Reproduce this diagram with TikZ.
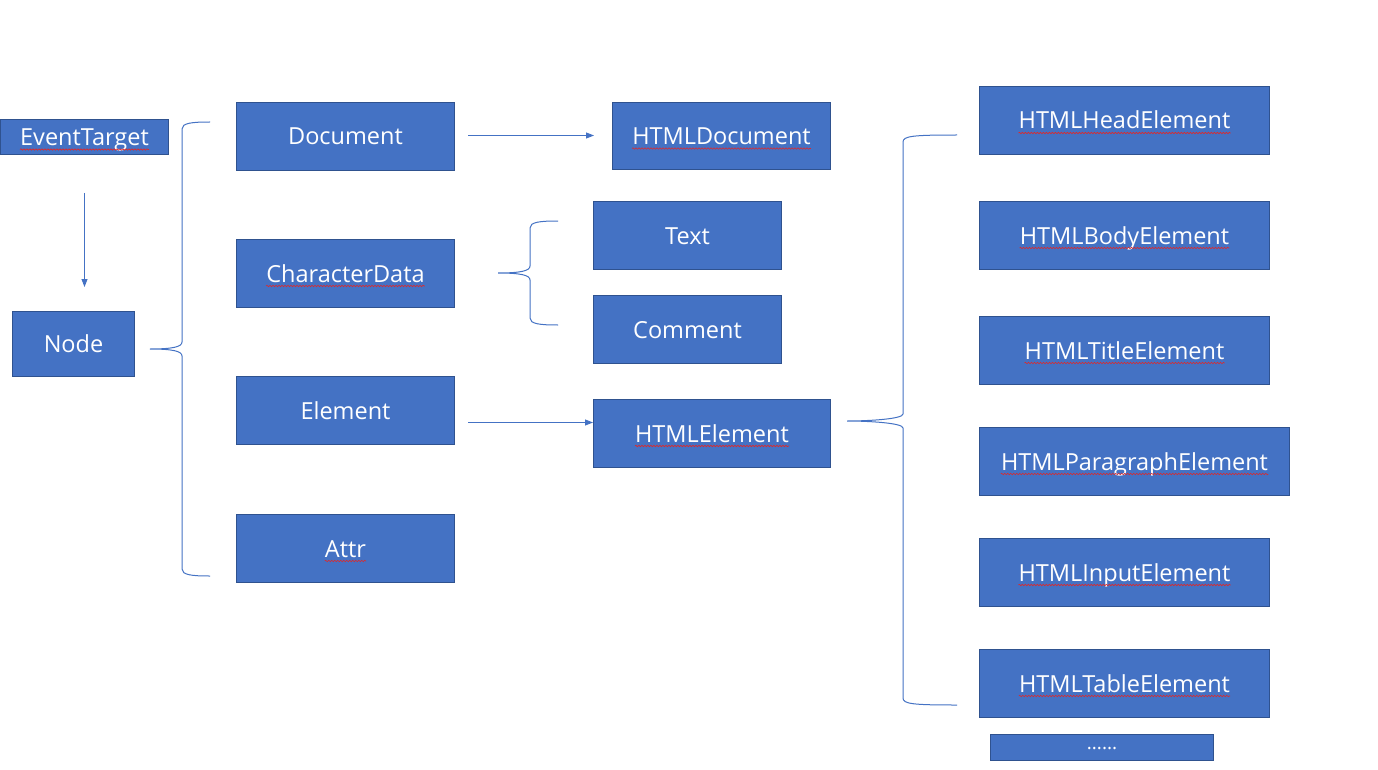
\documentclass[tikz,border=0pt]{standalone}
\usepackage{fontspec}
\setmainfont{Open Sans}
\usetikzlibrary{decorations.pathmorphing,arrows.meta}
\definecolor{boxblue}{HTML}{4472C4}
\definecolor{boxedge}{HTML}{2F528F}
\definecolor{sqred}{HTML}{E02828}
\newcommand\mkbox[6]{%
  \node[box, minimum width=#4pt, minimum height=#5pt] (#1) at (#2,#3) {};
  \node[txt] (#1-t) at ([yshift=-8.5pt]#1.center) {#6};}
\newcommand\squig[1]{%
  \draw[squigline] ([yshift=-4pt]#1-t.base west) -- ([yshift=-4pt]#1-t.base east);}
\newcommand\cbrace[6]{% x, top, bottom, tipx, tipy, endx
  \draw[bracel] (#6,#2) .. controls (#1+10,#2) and (#1,#2+1) .. (#1,#2+7)
    -- (#1,#5-7) .. controls (#1,#5-2) and (#4+22,#5) .. (#4,#5)
    .. controls (#4+22,#5) and (#1,#5+2) .. (#1,#5+7)
    -- (#1,#3-7) .. controls (#1,#3-1) and (#1+10,#3) .. (#6,#3);}
\begin{document}
\begin{tikzpicture}[x=1pt,y=-1pt,
  box/.style={draw=boxedge, line width=1pt, fill=boxblue, inner sep=0pt, anchor=north west},
  txt/.style={text=white, font=\fontsize{23.5}{28}\selectfont, inner sep=0pt, anchor=base},
  squigline/.style={draw=sqred, line width=0.6pt, decorate,
    decoration={snake, amplitude=0.7pt, segment length=3pt}},
  conn/.style={draw=boxblue, line width=0.9pt, -{Triangle[length=8pt,width=6pt]}},
  bracel/.style={draw=boxblue, line width=1pt}]
\fill[white] (0,0) rectangle (1378,770);
\useasboundingbox (0,0) rectangle (1378,770);

\mkbox{et}{0}{119}{168}{35}{EventTarget}
\mkbox{nd}{12}{311}{122}{65}{Node}
\mkbox{doc}{236}{102}{218}{68}{Document}
\mkbox{cd}{236}{239}{218}{68}{CharacterData}
\mkbox{el}{236}{376}{218}{68}{Element}
\mkbox{at}{236}{514}{218}{68}{Attr}
\mkbox{hd}{612}{102}{218}{67}{HTMLDocument}
\mkbox{tx}{593}{201}{188}{68}{Text}
\mkbox{cm}{593}{295}{188}{68}{Comment}
\mkbox{he}{593}{399}{237}{68}{HTMLElement}
\mkbox{head}{979}{86}{290}{68}{HTMLHeadElement}
\mkbox{body}{979}{201}{290}{68}{HTMLBodyElement}
\mkbox{title}{979}{316}{290}{68}{HTMLTitleElement}
\mkbox{para}{979}{427}{310}{68}{HTMLParagraphElement}
\mkbox{input}{979}{538}{290}{68}{HTMLInputElement}
\mkbox{table}{979}{649}{290}{68}{HTMLTableElement}
\node[box, minimum width=223pt, minimum height=26pt] (more) at (990,734) {};
\node[txt, font=\fontsize{19}{20}\selectfont] (more-t) at ([yshift=-2pt]more.center) {......};

\foreach \n in {et,hd,cd,he,at,head,body,title,para,input,table}{\squig{\n}}

% arrows
\draw[conn, shorten <=38pt, shorten >=24pt] (et.south) -- (et.south |- nd.north);
\draw[conn, shorten <=13pt, shorten >=18pt] ([yshift=1pt]doc.east) -- ([yshift=1pt]doc.east -| hd.west);
\coordinate (elout) at ([yshift=-12pt]el.east);
\draw[conn, shorten <=13pt] (elout) -- (elout -| he.west);

% braces
\cbrace{182}{122}{576}{150}{349}{210}
\cbrace{530}{221}{325}{498}{273}{558}
\cbrace{903}{135}{705}{847}{421}{957}
\end{tikzpicture}
\end{document}
